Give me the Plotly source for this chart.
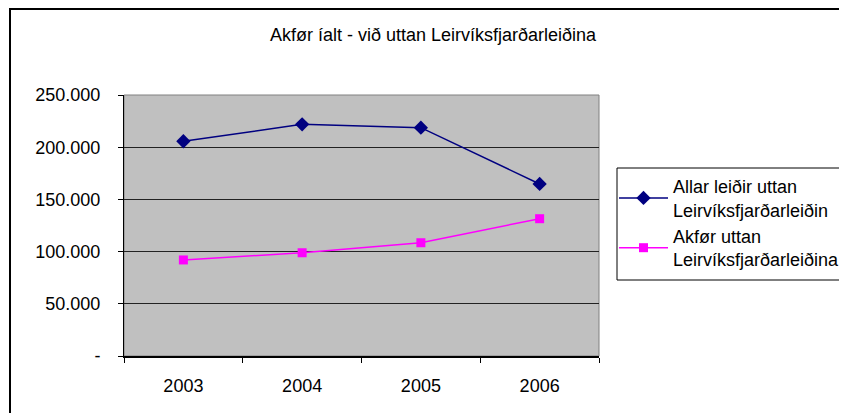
import plotly.graph_objects as go

years = ["2003", "2004", "2005", "2006"]
allar = [205700, 221900, 218700, 164800]
akfor = [92000, 98900, 108500, 131500]
y_tickvals = [0, 50000, 100000, 150000, 200000, 250000]
y_ticktext = ["-", "50.000", "100.000", "150.000", "200.000", "250.000"]
series_names = ["Allar leiðir uttan<br>Leirvíksfjarðarleiðin", "Akfør uttan<br>Leirvíksfjarðarleiðina"]
title_text = "Akfør íalt - við uttan Leirvíksfjarðarleiðina"

OFF = 8  # browser body margin
W, H = 847 - OFF, 413 - OFF
# target positions in window pixels
L, R, T, B = 124, 599, 95, 356
pw, ph = R - L, B - T

def px(x):
    return (x - L) / pw

def py(y):
    return (B - y) / ph

font = "Liberation Sans, Arial, sans-serif"
FS = 18

fig = go.Figure()
fig.add_trace(go.Scatter(x=years, y=allar, name=series_names[0], mode="lines+markers",
                         line=dict(color="#000080", width=1.5),
                         marker=dict(symbol="diamond", size=11, color="#000080")))
fig.add_trace(go.Scatter(x=years, y=akfor, name=series_names[1], mode="lines+markers",
                         line=dict(color="#FF00FF", width=1.5),
                         marker=dict(symbol="square", size=9, color="#FF00FF")))

fig.update_layout(
    width=W, height=H,
    margin=dict(l=L - OFF, r=847 - R, t=T - OFF, b=413 - B, pad=0, autoexpand=False),
    paper_bgcolor="white", plot_bgcolor="#C0C0C0",
    font=dict(family=font, size=FS, color="black"),
    title=dict(text=title_text, x=(433 - OFF) / W, xanchor="center", y=1 - (35 - OFF) / H,
               yanchor="middle", font=dict(family=font, size=FS, color="black")),
    showlegend=True,
    legend=dict(x=px(614), y=py(168), xanchor="left", yanchor="top",
                borderwidth=0, bgcolor="rgba(0,0,0,0)",
                font=dict(family=font, size=FS, color="black"),
                tracegroupgap=4, itemwidth=49),
    xaxis=dict(type="category", range=[-0.5, 3.5], tickson="boundaries", ticks="outside",
               ticklen=5, tickcolor="black", showline=True, linecolor="black", linewidth=2,
               showgrid=False, zeroline=False, ticklabelstandoff=12,
               tickfont=dict(family=font, size=FS, color="black")),
    yaxis=dict(range=[0, 250000], tickvals=y_tickvals, ticktext=y_ticktext,
               ticks="outside", ticklen=5, tickcolor="black",
               showline=True, linecolor="black", linewidth=1,
               showgrid=True, gridcolor="#222222", gridwidth=1, zeroline=False,
               ticklabelstandoff=14,
               tickfont=dict(family=font, size=FS, color="black")),
)

# plot area border (gray top/right)
fig.add_shape(type="rect", xref="paper", yref="paper", x0=0, x1=1, y0=0, y1=1,
              line=dict(color="#808080", width=1), layer="below")
# legend box
fig.add_shape(type="rect", xref="paper", yref="paper",
              x0=px(617), x1=px(845), y0=py(280), y1=py(168),
              line=dict(color="black", width=1), fillcolor="white")
# outer chart border
fig.add_shape(type="rect", xref="paper", yref="paper",
              x0=px(10), x1=px(847 + 20), y0=py(413 + 20), y1=py(9),
              line=dict(color="black", width=2))

fig.write_html("out.html")
